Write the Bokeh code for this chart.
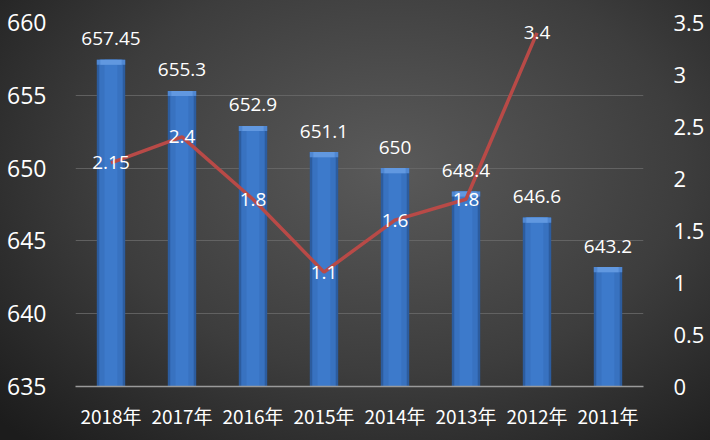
from bokeh.plotting import figure
from bokeh.models import Range1d, LinearAxis, ColumnDataSource, LabelSet, FixedTicker
from bokeh.core.properties import value
from bokeh.embed import file_html
from bokeh.resources import INLINE

years = ["2018年", "2017年", "2016年", "2015年", "2014年", "2013年", "2012年", "2011年"]
bar_values = [657.45, 655.3, 652.9, 651.1, 650, 648.4, 646.6, 643.2]
bar_labels = ["657.45", "655.3", "652.9", "651.1", "650", "648.4", "646.6", "643.2"]
line_years = ["2018年", "2017年", "2016年", "2015年", "2014年", "2013年", "2012年"]
line_values = [2.15, 2.4, 1.8, 1.1, 1.6, 1.8, 3.4]
line_labels = ["2.15", "2.4", "1.8", "1.1", "1.6", "1.8", "3.4"]
left_ticks = [635, 640, 645, 650, 655, 660]
right_ticks = [0, 0.5, 1, 1.5, 2, 2.5, 3, 3.5]

p = figure(x_range=years, y_range=Range1d(635, 660), width=710, height=440,
           output_backend="svg", toolbar_location=None,
           min_border_left=75, min_border_right=67, min_border_top=22, min_border_bottom=54)
p.background_fill_alpha = 0
p.border_fill_alpha = 0
p.outline_line_color = None
p.styles = {"background": "radial-gradient(ellipse 75% 85% at 55% 38%, #5a5a5a 0%, #3d3d3d 55%, #1c1c1c 100%)"}

p.extra_y_ranges = {"pct": Range1d(0, 3.5)}

bsrc = ColumnDataSource(dict(x=years, top=bar_values, lab=bar_labels,
                             cap=[v - 0.35 for v in bar_values]))
p.vbar(x="x", top="top", bottom=635, width=0.4, source=bsrc, fill_color="#2c5c9e", line_color=None)
p.vbar(x="x", top="top", bottom=635, width=0.33, source=bsrc, fill_color="#3872c0", line_color=None)
p.vbar(x="x", top="top", bottom=635, width=0.18, source=bsrc, fill_color="#3d7acb", line_color=None)
p.vbar(x="x", top="top", bottom="cap", width=0.4, source=bsrc, fill_color="#4f87d2", line_color=None)
p.vbar(x="x", top="top", bottom="cap", width=0.3, source=bsrc, fill_color="#6198e0", line_color=None)

lsrc = ColumnDataSource(dict(x=line_years, y=line_values, lab=line_labels))
p.line(x="x", y="y", source=lsrc, y_range_name="pct", line_color="#b84a47", line_width=3.5)

p.add_layout(LabelSet(x="x", y="top", text="lab", source=bsrc, text_align="center",
                      text_baseline="middle", y_offset=21, text_color="white",
                      text_font_size="19px", text_font=value("Open Sans")))
p.add_layout(LabelSet(x="x", y="y", text="lab", source=lsrc, y_range_name="pct",
                      text_align="center", text_baseline="middle", text_color="white",
                      text_font_size="19px", text_font=value("Open Sans")))

ax = p.yaxis[0]
ax.ticker = FixedTicker(ticks=left_ticks)
ax.axis_line_color = None
ax.major_tick_line_color = None
ax.minor_tick_line_color = None
ax.major_label_text_color = "white"
ax.major_label_text_font = "Open Sans"
ax.major_label_text_font_size = "23px"
ax.major_label_standoff = 23

rax = LinearAxis(y_range_name="pct", ticker=FixedTicker(ticks=right_ticks))
rax.axis_line_color = None
rax.major_tick_line_color = None
rax.minor_tick_line_color = None
rax.major_label_text_color = "white"
rax.major_label_text_font = "Open Sans"
rax.major_label_text_font_size = "22px"
rax.major_label_standoff = 24
p.add_layout(rax, "right")

xa = p.xaxis[0]
xa.axis_line_color = "#9a9a9a"
xa.axis_line_width = 1.5
xa.major_tick_line_color = None
xa.minor_tick_line_color = None
xa.major_label_text_color = "white"
xa.major_label_text_font = "Noto Sans CJK SC"
xa.major_label_text_font_size = "19px"
xa.major_label_standoff = 9

p.xgrid.grid_line_color = None
p.ygrid.grid_line_color = "#6a6a6a"
p.ygrid.grid_line_alpha = 0.8

html = file_html(p, INLINE)
open("out.html", "w").write(html)
